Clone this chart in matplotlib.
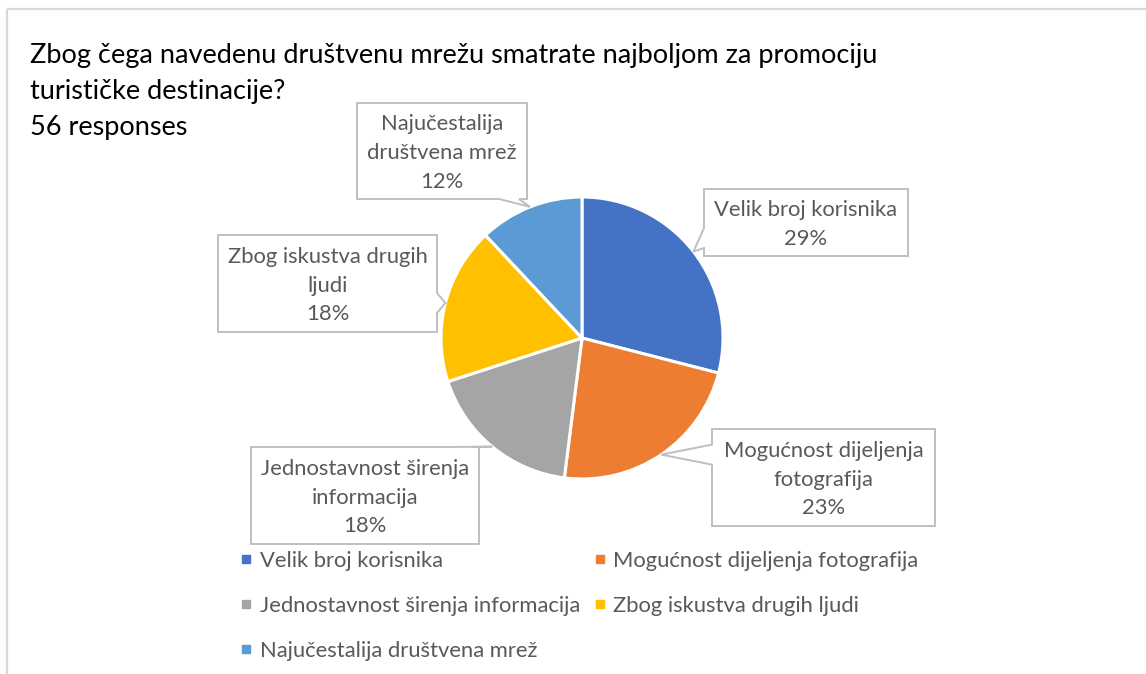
import matplotlib
matplotlib.use("Agg")
import matplotlib.pyplot as plt
from matplotlib.lines import Line2D
from matplotlib.patches import Polygon
import numpy as np

# ---------------- data ----------------
categories = ["Velik broj korisnika", "Mogućnost dijeljenja fotografija",
              "Jednostavnost širenja informacija", "Zbog iskustva drugih ljudi",
              "Najučestalija društvena mrež"]
percentages = [29, 23, 18, 18, 12]
label_texts = ["Velik broj korisnika", "Mogućnost dijeljenja\nfotografija",
               "Jednostavnost širenja\ninformacija", "Zbog iskustva drugih\nljudi",
               "Najučestalija\ndruštvena mrež"]
colors = ["#4472C4", "#ED7D31", "#A5A5A5", "#FFC000", "#5B9BD5"]
title_lines = ["Zbog čega navedenu društvenu mrežu smatrate najboljom za promociju",
               "turističke destinacije?", "56 responses"]

# ---------------- layout ----------------
W, H = 1146, 674
FONT = "Lato"
fig = plt.figure(figsize=(W / 100, H / 100), dpi=100)
ax = fig.add_axes([0, 0, 1, 1])

def py(y):
    return H - y

renderer = fig.canvas.get_renderer()

def fit_size(text, target_px, base=20):
    t = fig.text(0, 0, text, fontsize=base, family=FONT)
    w = t.get_window_extent(renderer).width
    t.remove()
    return base * target_px / w

title_fs = fit_size(title_lines[0], 852)
label_fs = fit_size("Velik broj korisnika", 184)

# pie
cx, cy, R = 582, py(338), 141
ax.pie(percentages, colors=colors, startangle=90, counterclock=False,
       center=(cx, cy), radius=R, frame=True,
       wedgeprops=dict(edgecolor="white", linewidth=2.2, joinstyle="miter"))
ax.set_xlim(0, W)
ax.set_ylim(0, H)
ax.set_aspect("equal")
ax.axis("off")

# frame (top and left edges visible)
ax.plot([7, W], [py(9), py(9)], color="#D9D9D9", lw=1.6, solid_capstyle="butt")
ax.plot([7, 7], [py(9), 0], color="#D9D9D9", lw=1.6, solid_capstyle="butt")

# title
for line, yy in zip(title_lines, [55, 92, 128]):
    ax.text(30, py(yy), line, fontsize=title_fs, family=FONT, color="#000000",
            ha="left", va="center")

# callout boxes (pixel layout: x0, y0, x1, y1 with y downward) and pointer side
boxes = [(704, 189, 908, 256, "left"),
         (712, 429, 935, 526, "left"),
         (251, 447, 479, 544, "top"),
         (218, 235, 437, 332, "right"),
         (357, 103, 527, 199, "bottom")]

total = float(sum(percentages))
cum = np.cumsum([0] + percentages[:-1])
mid_angles = 90 - 360 * (cum + np.array(percentages) / 2) / total

def callout_poly(x0, y0, x1, y1, side, tip, half=10, margin=18):
    X0, X1 = x0, x1
    Yt, Yb = py(y0), py(y1)
    tx, ty = tip
    pts = [(X0, Yt)]
    if side == "top":
        c = np.clip(tx, X0 + margin, X1 - margin)
        pts += [(c - half, Yt), (tx, ty), (c + half, Yt)]
    pts.append((X1, Yt))
    if side == "right":
        c = np.clip(ty, Yb + margin, Yt - margin)
        pts += [(X1, c + half), (tx, ty), (X1, c - half)]
    pts.append((X1, Yb))
    if side == "bottom":
        c = np.clip(tx, X0 + margin, X1 - margin)
        pts += [(c + half, Yb), (tx, ty), (c - half, Yb)]
    pts.append((X0, Yb))
    if side == "left":
        c = np.clip(ty, Yb + margin, Yt - margin)
        pts += [(X0, c - half), (tx, ty), (X0, c + half)]
    return pts

for (x0, y0, x1, y1, side), ang, txt, p in zip(boxes, mid_angles, label_texts, percentages):
    a = np.deg2rad(ang)
    tip = (cx + R * np.cos(a), cy + R * np.sin(a))
    poly = Polygon(callout_poly(x0, y0, x1, y1, side, tip), closed=True,
                   facecolor="white", edgecolor="#BFBFBF", lw=1.4, zorder=5)
    ax.add_patch(poly)
    ax.text((x0 + x1) / 2, py((y0 + y1) / 2 + 2), f"{txt}\n{p}%", fontsize=label_fs,
            family=FONT, color="#595959", ha="center", va="center",
            multialignment="center", linespacing=1.55, zorder=6)

# legend (row-major order as in reference)
handles = [Line2D([], [], marker="s", color=c, linestyle="None", markersize=6.2)
           for c in colors]
order = [0, 2, 4, 1, 3]
leg = ax.legend([handles[i] for i in order], [categories[i] for i in order],
                ncol=2, loc="upper left", bbox_to_anchor=(241, py(551)),
                bbox_transform=ax.transData, frameon=False, borderpad=0,
                borderaxespad=0, handlelength=0.5, handletextpad=0.35,
                columnspacing=0.65, labelspacing=1.14,
                prop=dict(family=FONT, size=label_fs), labelcolor="#595959")

fig.savefig("out.png", dpi=100, facecolor="white")
